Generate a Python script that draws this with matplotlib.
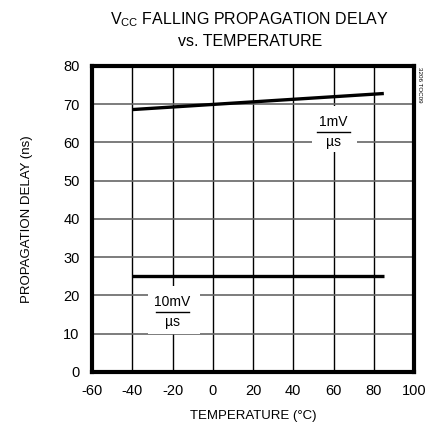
import matplotlib
matplotlib.use("Agg")
import matplotlib.pyplot as plt
from matplotlib.patches import Rectangle

plt.rcParams['font.family'] = ['Liberation Sans', 'DejaVu Sans']

temp = [-40, 85]
delay_1mv = [68.6, 72.8]
delay_10mv = [25.0, 25.0]
xticks = [-60, -40, -20, 0, 20, 40, 60, 80, 100]
yticks = [0, 10, 20, 30, 40, 50, 60, 70, 80]

fig = plt.figure(figsize=(4.27, 4.34), dpi=100)
ax = fig.add_axes([0.2155, 0.1429, 0.7541, 0.7051])
ax.set_xlim(-60, 100)
ax.set_ylim(0, 80)
ax.set_xticks(xticks)
ax.set_yticks(yticks)
ax.tick_params(length=0, labelsize=10.5, pad=9)
for lbl in ax.get_xticklabels():
    lbl.set_text(lbl.get_text())
ax.set_xticklabels([str(v) for v in xticks])
ax.set_yticklabels([str(v) for v in yticks])

for v in xticks[1:-1]:
    ax.axvline(v, color='black', lw=1.0, zorder=1)
for v in yticks[1:-1]:
    ax.axhline(v, color='#666666', lw=1.2, zorder=1)

for s in ax.spines.values():
    s.set_linewidth(3.0)
    s.set_zorder(5)

ax.plot(temp, delay_1mv, color='black', lw=2.4, solid_capstyle='butt', zorder=3)
ax.plot(temp, delay_10mv, color='black', lw=2.4, solid_capstyle='butt', zorder=3)

# label 1mV/us
ax.add_patch(Rectangle((49.5, 57.5), 22.0, 12.0, facecolor='white', edgecolor='none', zorder=2))
ax.text(60, 65.3, '1mV', ha='center', va='center', fontsize=10, zorder=4)
ax.plot([52, 68], [62.7, 62.7], color='black', lw=1.0, zorder=4)
ax.text(60, 60.0, 'µs', ha='center', va='center', fontsize=10, zorder=4)

# label 10mV/us
ax.add_patch(Rectangle((-32.0, 9.8), 25.5, 12.8, facecolor='white', edgecolor='none', zorder=2))
ax.text(-20, 18.3, '10mV', ha='center', va='center', fontsize=10, zorder=4)
ax.plot([-28, -12], [15.7, 15.7], color='black', lw=1.0, zorder=4)
ax.text(-20, 13.0, 'µs', ha='center', va='center', fontsize=10, zorder=4)

ax.set_xlabel('TEMPERATURE (°C)', fontsize=9.5, labelpad=8)
ax.set_ylabel('PROPAGATION DELAY (ns)', fontsize=9.5, labelpad=22)

fig.text(0.585, 0.955, r'V$_{\mathregular{CC}}$ FALLING PROPAGATION DELAY', ha='center', va='center', fontsize=11.5)
fig.text(0.585, 0.905, 'vs. TEMPERATURE', ha='center', va='center', fontsize=11.5)
fig.text(0.983, 0.805, '3206 TOC09', rotation=-90, ha='center', va='center', fontsize=4.5)

fig.savefig('out.png', dpi=100)
